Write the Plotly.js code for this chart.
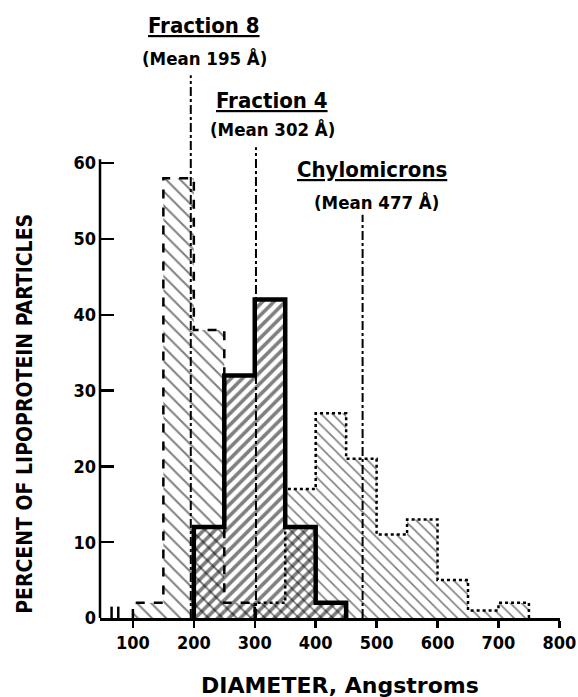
<!DOCTYPE html>
<html>
<head>
<meta charset="utf-8">
<script src="https://cdn.plot.ly/plotly-3.0.1.min.js"></script>
<style>html,body{margin:0;padding:0;background:#fff;}#chart{width:578px;height:697px;}</style>
</head>
<body>
<div id="chart"></div>
<script>
// ---- data ----
const binStarts = [100, 150, 200, 250, 300, 350, 400, 450, 500, 550, 600, 650, 700];
const binWidth = 50;
const fraction8 = [2, 58, 38, 2, 0, 0, 0, 0, 0, 0, 0, 0, 0];
const fraction4 = [0, 0, 12, 32, 42, 12, 2, 0, 0, 0, 0, 0, 0];
const chylomicrons = [0, 0, 0, 0, 2, 17, 27, 21, 11, 13, 5, 1, 2];
const seriesNames = ["Fraction 8", "Fraction 4", "Chylomicrons"];
const means = [195, 302, 477];
const xTicks = [100, 200, 300, 400, 500, 600, 700, 800];
const yTicks = [0, 10, 20, 30, 40, 50, 60];

// ---- layout constants ----
const FONT = "DejaVu Sans Condensed, DejaVu Sans, sans-serif";
const meanLineTops = [71.6, 62.1, 53.2];

function centers() { return binStarts.map(s => s + binWidth / 2); }

function stepOutline(vals) {
  let first = vals.findIndex(v => v > 0);
  let last = vals.length - 1;
  while (last > 0 && vals[last] === 0) last--;
  const xs = [binStarts[first]], ys = [0];
  for (let i = first; i <= last; i++) { xs.push(binStarts[i]); ys.push(vals[i]); }
  xs.push(binStarts[last] + binWidth); ys.push(0);
  return {x: xs, y: ys};
}

function barTrace(vals, name, shape, size, solidity) {
  return {
    type: "bar", x: centers(), y: vals, width: binWidth, name: name,
    marker: {color: "rgba(0,0,0,0)", line: {width: 0},
      pattern: {shape: shape, fgcolor: "#000", bgcolor: "rgba(0,0,0,0)", size: size, solidity: solidity, fillmode: "overlay"}},
    hoverinfo: "skip", showlegend: false
  };
}
function outlineTrace(vals, dash, width) {
  const s = stepOutline(vals);
  return {type: "scatter", mode: "lines", x: s.x, y: s.y, line: {shape: "hv", color: "#000", width: width, dash: dash},
    hoverinfo: "skip", showlegend: false};
}

const traces = [
  barTrace(chylomicrons, seriesNames[2], "\\", 8, 0.2),
  barTrace(fraction4, seriesNames[1], "/", 8, 0.45),
  barTrace(fraction8, seriesNames[0], "\\", 10, 0.2),
  outlineTrace(chylomicrons, "dot", 2.5),
  outlineTrace(fraction4, "solid", 4.5),
  outlineTrace(fraction8, "dash", 2.5)
];
means.forEach((m, i) => {
  traces.push({type: "scatter", mode: "lines", x: [m, m], y: [0, meanLineTops[i]],
    line: {color: "#000", width: 2, dash: "dashdot"}, hoverinfo: "skip", showlegend: false});
});

const labelPos = [
  {t: [0.226, 1.057], m: [0.228, 0.998]},
  {t: [0.374, 0.922], m: [0.374, 0.872]},
  {t: [0.591, 0.799], m: [0.600, 0.742]}
];
const annotations = [];
seriesNames.forEach((n, i) => {
  annotations.push({xref: "paper", yref: "paper", x: labelPos[i].t[0], y: labelPos[i].t[1], text: "<u>" + n + "</u>",
    showarrow: false, font: {family: FONT, size: 22, color: "#000", weight: "bold"}, xanchor: "center", yanchor: "middle"});
  annotations.push({xref: "paper", yref: "paper", x: labelPos[i].m[0], y: labelPos[i].m[1], text: "(Mean " + means[i] + " Å)",
    showarrow: false, font: {family: FONT, size: 18.5, color: "#000", weight: "bold"}, xanchor: "center", yanchor: "middle"});
});
annotations.push({xref: "paper", yref: "paper", x: -0.163, y: 0.364, text: "PERCENT OF LIPOPROTEIN PARTICLES", textangle: -90,
  showarrow: false, font: {family: FONT, size: 21, color: "#000", weight: "bold"}, xanchor: "center", yanchor: "middle"});
annotations.push({xref: "paper", yref: "paper", x: 0.522, y: -0.121, text: "DIAMETER, Angstroms",
  showarrow: false, font: {family: "DejaVu Sans, sans-serif", size: 22, color: "#000", weight: "bold"}, xanchor: "center", yanchor: "middle"});

const layout = {
  width: 578, height: 697,
  margin: {l: 100, r: 18, t: 57, b: 79},
  paper_bgcolor: "#fff", plot_bgcolor: "#fff",
  barmode: "overlay", showlegend: false,
  xaxis: {range: [46, 801], tickvals: xTicks, ticktext: xTicks.map(String), ticks: "outside", ticklen: 7, tickwidth: 2.5,
    tickcolor: "#000", showline: true, linecolor: "#000", linewidth: 2.5, showgrid: false, zeroline: false,
    tickfont: {family: FONT, size: 18, color: "#000", weight: "bold"}},
  yaxis: {range: [0, 74], tickvals: yTicks, ticktext: yTicks.map(String), ticks: "inside", ticklen: 14, tickwidth: 2.5,
    tickcolor: "#000", showline: false, showgrid: false, zeroline: false, ticklabelstandoff: 3,
    tickfont: {family: FONT, size: 18, color: "#000", weight: "bold"}},
  shapes: [
    {type: "line", xref: "paper", yref: "y", x0: 0, x1: 0, y0: 0, y1: 60.5, line: {color: "#000", width: 2.5}},
    {type: "line", xref: "x", yref: "y", x0: 65, x1: 65, y0: -1.5, y1: 1.5, line: {color: "#000", width: 2.5}},
    {type: "line", xref: "x", yref: "y", x0: 76, x1: 76, y0: -1.5, y1: 1.5, line: {color: "#000", width: 2.5}}
  ],
  annotations: annotations
};

Plotly.newPlot("chart", traces, layout, {displayModeBar: false, staticPlot: true});
</script>
</body>
</html>
